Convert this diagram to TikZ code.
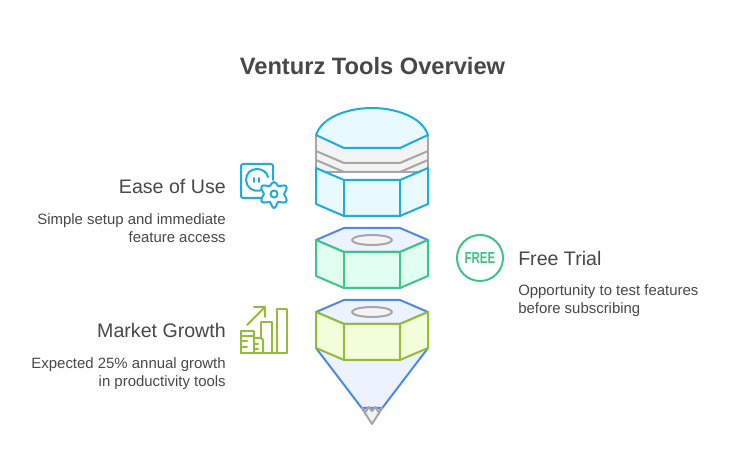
\documentclass[tikz,border=0pt]{standalone}
\usepackage{fontspec}
\setmainfont{Liberation Sans}
\definecolor{cy}{HTML}{1EADDB}\definecolor{cyf}{HTML}{E8F9FF}
\definecolor{gy}{HTML}{A6A6A6}\definecolor{gyf}{HTML}{F3F3F3}
\definecolor{bl}{HTML}{4E88E7}\definecolor{blf}{HTML}{ECF3FF}
\definecolor{gr}{HTML}{3CC583}\definecolor{grf}{HTML}{E0FFF0}
\definecolor{ol}{HTML}{92BC39}\definecolor{olf}{HTML}{F2FFDA}
\definecolor{tx}{HTML}{484848}
\begin{document}
\begin{tikzpicture}[x=0.75pt,y=-0.75pt,
  sh/.style={line width=1.5pt,line join=round},
  ic/.style={line width=1.5pt,line join=round,line cap=round,fill=none},
  ttl/.style={font=\fontsize{17.75}{22}\selectfont\bfseries,text=tx,inner sep=0pt},
  hd/.style={font=\fontsize{14.7}{18}\selectfont,text=tx,inner sep=0pt},
  bd/.style={font=\fontsize{11.2}{13.5}\selectfont,text=tx,inner sep=0pt}]
\useasboundingbox (0,0) rectangle (732,473);
\fill[white] (0,0) rectangle (732,473);
\node[ttl] (title) at (372.5,66) {Venturz Tools Overview};
% top stack
\filldraw[sh,draw=gy,fill=gyf] (316,135) -- (316,172) -- (428,172) -- (428,135) -- cycle;
\draw[sh,draw=gy] (316,151) -- (344,163) -- (400,163) -- (428,151);
\draw[sh,draw=gy] (316,160) -- (344,172) -- (400,172) -- (428,160);
\filldraw[sh,draw=cy,fill=cyf] (316,135) .. controls (322,117) and (348,108) .. (372,108) .. controls (396,108) and (422,117) .. (428,135) -- (400,148) -- (344,148) -- cycle;
\filldraw[sh,draw=cy,fill=cyf] (316,168) -- (344,180) -- (400,180) -- (428,168) -- (428,204) -- (400,216) -- (344,216) -- (316,204) -- cycle;
\draw[sh,draw=cy] (344,180) -- (344,216) (400,180) -- (400,216);
% middle
\filldraw[sh,draw=bl,fill=blf] (316,240) -- (344,228) -- (400,228) -- (428,240) -- (400,252) -- (344,252) -- cycle;
\filldraw[sh,draw=gy,fill=gyf] (372,240) ellipse (20 and 5);
\filldraw[sh,draw=gr,fill=grf] (316,240) -- (344,252) -- (400,252) -- (428,240) -- (428,276) -- (400,288) -- (344,288) -- (316,276) -- cycle;
\draw[sh,draw=gr] (344,252) -- (344,288) (400,252) -- (400,288);
% bottom
\filldraw[sh,draw=bl,fill=blf] (316,348) -- (361.7,408) -- (382.3,408) -- (428,348) -- cycle;
\filldraw[sh,draw=gy,fill=gyf] (361.7,408) -- (366,411.5) -- (368.5,407) -- (372,411) -- (375.5,407) -- (378,411.5) -- (382.3,408) -- (372,424) -- cycle;
\filldraw[sh,draw=bl,fill=blf] (316,312) -- (344,300) -- (400,300) -- (428,312) -- (400,324) -- (344,324) -- cycle;
\filldraw[sh,draw=gy,fill=gyf] (372,312) ellipse (20 and 5);
\filldraw[sh,draw=ol,fill=olf] (316,312) -- (344,324) -- (400,324) -- (428,312) -- (428,348) -- (400,360) -- (344,360) -- (316,348) -- cycle;
\draw[sh,draw=ol] (344,324) -- (344,360) (400,324) -- (400,360);
% Ease of use icon
\draw[ic,draw=cy,rounded corners=1.5pt] (262,198) -- (241,198) -- (241,164) -- (273,164) -- (273,180);
\draw[ic,draw=cy] (262,190) .. controls (253,193) and (246,187) .. (246,180) .. controls (246,173) and (251,169) .. (257,169) .. controls (262,169) and (267,172) .. (268,177);
\draw[ic,draw=cy] (254,178) -- (254,182) (259,178) -- (259,182);
\draw[ic,draw=cy] (274,182) .. controls (276,182) and (277,185) .. (278,186) .. controls (280,186.5) and (284,184.5) .. (286,186) .. controls (288,188) and (285,192) .. (284,194) .. controls (285,196) and (288,200) .. (286,202) .. controls (284,203.5) and (280,201.5) .. (278,202) .. controls (277,203) and (276,208) .. (274,208) .. controls (272,208) and (271,203) .. (270,202) .. controls (268,201.5) and (264,203.5) .. (262,202) .. controls (260,200) and (263,196) .. (264,194) .. controls (263,192) and (260,188) .. (262,186) .. controls (264,184.5) and (268,186.5) .. (270,186) .. controls (271,185) and (272,182) .. (274,182) -- cycle;
\draw[ic,draw=cy] (274,194) circle (3.5);
% Free icon
\draw[ic,draw=gr] (480,258) circle (23);
\node[font=\fontsize{12}{14}\selectfont\bfseries,text=gr,inner sep=0pt,xscale=.72,transform shape] (free) at (480,258) {FREE};
% Market icon
\draw[ic,draw=ol] (241,353) -- (241,331) -- (254,331) -- (254,353) (241,336) -- (253,336) (241,341) -- (247,341) (241,347) -- (247,347);
\draw[ic,draw=ol] (254,338) -- (261,338) -- (263,340) -- (263,353) (254,344) -- (258,344) (254,349) -- (258,349);
\draw[ic,draw=ol] (261,338) -- (261,322) -- (272,322) -- (272,353) -- (241,353);
\draw[ic,draw=ol] (277,353) -- (277,309) -- (287,309) -- (287,353) -- (272,353);
\draw[ic,draw=ol] (247,325) -- (265,307) (254,307) -- (265,307) -- (265,317);
% Text
\node[hd,anchor=east] (ease) at (226,186.5) {Ease of Use};
\node[bd,anchor=east,align=right] (easeb) at (226,228.5) {Simple setup and immediate\\feature access};
\node[hd,anchor=west] (trial) at (518,258.5) {Free Trial};
\node[bd,anchor=west,align=left] (trialb) at (518,301) {Opportunity to test features\\before subscribing};
\node[hd,anchor=east] (market) at (226,330.5) {Market Growth};
\node[bd,anchor=east,align=right] (marketb) at (226,373.5) {Expected 25\% annual growth\\in productivity tools};
\end{tikzpicture}
\end{document}
